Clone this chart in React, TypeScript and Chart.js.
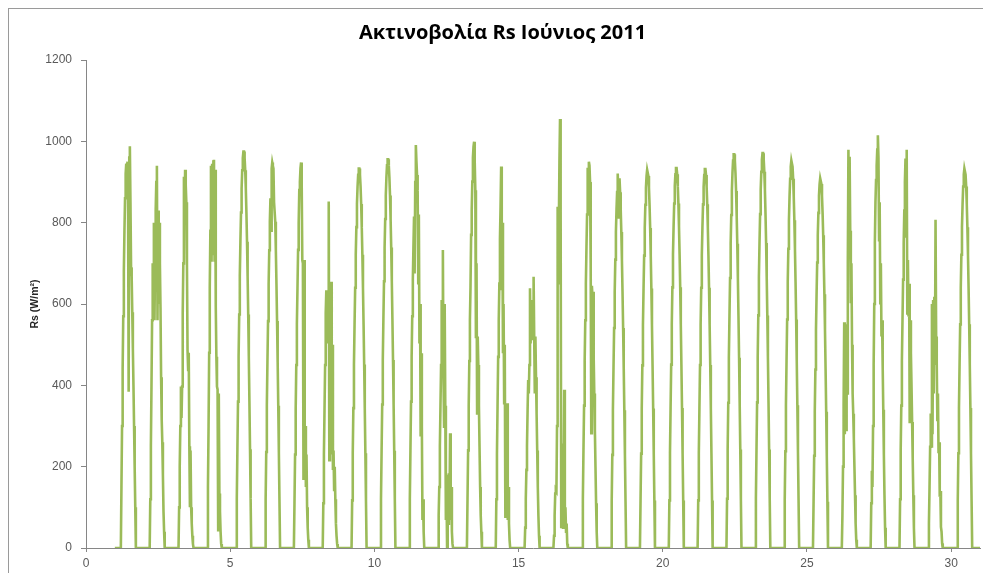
import React, { useEffect, useRef } from "react";
import { Chart, registerables } from "chart.js";

Chart.register(...registerables);

const TITLE = "Ακτινοβολία Rs Ιούνιος 2011";
const Y_TITLE = "Rs (W/m²)";
const X_TICKS = [0, 5, 10, 15, 20, 25, 30];
const Y_TICKS = [0, 200, 400, 600, 800, 1000, 1200];
const X_MIN = 0;
const X_MAX = 31;
const FIRST_X = 1;
const LAST_X = 31;
const SUNRISE_HOUR = 5;
const SUNSET_HOUR = 17.5;
// half-hourly sample times (hours) between sunrise and sunset
const SLOT_HOURS = [5.5, 6, 6.5, 7, 7.5, 8, 8.5, 9, 9.5, 10, 10.5, 11, 11.5, 12, 12.5, 13, 13.5, 14, 14.5, 15, 15.5, 16, 16.5, 17];

// Rs (W/m²) per day of June 2011, values at SLOT_HOURS
const d01 = [150, 300, 440, 570, 680, 780, 860, 920, 945, 910, 950, 870, 384, 960, 988, 850, 690, 667, 580, 490, 400, 300, 200, 100];
const d02 = [120, 250, 400, 560, 700, 570, 800, 560, 720, 830, 900, 940, 560, 830, 600, 800, 700, 590, 420, 315, 260, 180, 90, 40];
const d03 = [100, 200, 300, 397, 320, 397, 577, 700, 913, 823, 930, 893, 850, 700, 487, 438, 480, 250, 100, 240, 100, 60, 30, 10];
const d04 = [150, 300, 480, 640, 780, 940, 704, 945, 720, 950, 955, 704, 930, 593, 470, 397, 390, 44, 380, 134, 90, 40, 10, 0];
const d05 = [122, 243, 360, 471, 574, 669, 753, 825, 884, 929, 959, 975, 975, 959, 929, 884, 825, 753, 669, 574, 471, 360, 243, 122];
const d06 = [119, 236, 350, 458, 558, 650, 732, 802, 860, 780, 933, 948, 940, 933, 850, 850, 802, 732, 650, 558, 458, 350, 236, 119];
const d07 = [110, 230, 340, 450, 550, 640, 733, 800, 880, 900, 934, 948, 900, 708, 700, 167, 708, 265, 300, 150, 230, 100, 50, 20];
const d08 = [110, 230, 340, 450, 577, 634, 503, 620, 610, 852, 216, 580, 570, 655, 230, 500, 192, 240, 143, 200, 120, 60, 30, 10];
const d09 = [117, 233, 344, 451, 550, 640, 721, 789, 846, 889, 918, 933, 933, 918, 889, 846, 789, 721, 640, 550, 451, 344, 233, 117];
const d10 = [120, 239, 353, 462, 563, 656, 739, 809, 867, 911, 941, 956, 956, 941, 911, 867, 809, 739, 656, 563, 462, 353, 239, 120];
const d11 = [120, 240, 360, 470, 570, 660, 740, 815, 675, 900, 991, 950, 917, 880, 651, 820, 503, 600, 274, 479, 300, 69, 120, 40];
const d12 = [80, 150, 250, 350, 450, 610, 550, 733, 421, 298, 600, 350, 69, 150, 0, 180, 60, 184, 100, 282, 69, 150, 40, 10];
const d13 = [120, 240, 350, 460, 560, 643, 770, 830, 901, 960, 987, 999, 950, 880, 516, 700, 331, 520, 450, 350, 250, 150, 80, 40];
const d14 = [120, 230, 350, 470, 560, 650, 760, 839, 938, 634, 800, 479, 600, 356, 500, 77, 307, 200, 356, 69, 150, 60, 20, 0];
const d15 = [50, 120, 192, 250, 339, 413, 380, 450, 639, 503, 560, 610, 511, 600, 667, 520, 380, 520, 420, 330, 240, 150, 80, 30];
const d16 = [30, 80, 134, 143, 140, 300, 839, 651, 790, 950, 1055, 831, 52, 200, 257, 50, 150, 389, 61, 100, 40, 60, 10, 0];
const d17 = [120, 240, 350, 460, 560, 650, 740, 820, 935, 900, 950, 940, 900, 700, 282, 645, 618, 630, 470, 380, 290, 200, 110, 40];
const d18 = [115, 229, 339, 443, 541, 630, 709, 777, 832, 875, 921, 870, 810, 909, 875, 832, 777, 709, 630, 541, 443, 339, 229, 115];
const d19 = [117, 232, 343, 449, 548, 638, 719, 787, 844, 886, 915, 930, 930, 915, 886, 844, 787, 719, 638, 548, 449, 343, 232, 117];
const d20 = [117, 233, 344, 451, 550, 641, 722, 790, 847, 890, 919, 934, 934, 919, 890, 847, 790, 722, 641, 550, 451, 344, 233, 117];
const d21 = [117, 233, 344, 450, 549, 640, 720, 788, 845, 888, 917, 932, 932, 917, 888, 845, 788, 720, 640, 549, 450, 344, 233, 117];
const d22 = [121, 242, 357, 468, 570, 664, 748, 819, 878, 922, 953, 968, 968, 953, 922, 878, 819, 748, 664, 570, 468, 357, 242, 121];
const d23 = [122, 242, 358, 469, 572, 666, 750, 821, 881, 925, 955, 971, 971, 955, 925, 881, 821, 750, 666, 572, 469, 358, 242, 122];
const d24 = [119, 238, 351, 460, 562, 654, 736, 806, 864, 908, 938, 953, 953, 938, 908, 864, 806, 736, 654, 562, 460, 351, 238, 119];
const d25 = [114, 227, 335, 439, 536, 624, 702, 769, 824, 866, 895, 909, 909, 895, 866, 824, 769, 702, 624, 536, 439, 335, 227, 114];
const d26 = [80, 200, 350, 555, 280, 550, 290, 540, 380, 700, 979, 741, 962, 780, 602, 700, 500, 380, 330, 270, 200, 130, 60, 20];
const d27 = [110, 190, 150, 300, 450, 600, 750, 850, 905, 940, 980, 1015, 960, 757, 850, 602, 700, 520, 560, 450, 340, 230, 130, 50];
const d28 = [120, 240, 350, 460, 560, 660, 750, 830, 900, 958, 766, 979, 577, 708, 569, 650, 307, 560, 480, 400, 310, 220, 130, 50];
const d29 = [60, 150, 249, 331, 250, 600, 280, 610, 380, 618, 450, 807, 520, 454, 315, 380, 233, 260, 126, 140, 52, 40, 11, 0];
const d30 = [117, 233, 344, 451, 550, 640, 721, 789, 846, 889, 918, 933, 933, 918, 889, 846, 789, 721, 640, 550, 451, 344, 233, 117];

const DAYS = [1, 2, 3, 4, 5, 6, 7, 8, 9, 10, 11, 12, 13, 14, 15, 16, 17, 18, 19, 20, 21, 22, 23, 24, 25, 26, 27, 28, 29, 30];
const DAILY = [d01, d02, d03, d04, d05, d06, d07, d08, d09, d10, d11, d12, d13, d14, d15, d16, d17, d18, d19, d20, d21, d22, d23, d24, d25, d26, d27, d28, d29, d30];

function buildPoints() {
  const pts: { x: number; y: number }[] = [{ x: FIRST_X, y: 0 }];
  DAILY.forEach((vals, i) => {
    const day = DAYS[i];
    pts.push({ x: day + SUNRISE_HOUR / 24, y: 0 });
    vals.forEach((v, k) => pts.push({ x: day + SLOT_HOURS[k] / 24, y: v }));
    pts.push({ x: day + SUNSET_HOUR / 24, y: 0 });
  });
  pts.push({ x: LAST_X, y: 0 });
  return pts;
}

const FONT = "'Liberation Sans', Arial, sans-serif";
const TITLE_FONT = "'Open Sans', 'Liberation Sans', sans-serif";
const AXIS_GRAY = "#868686";

export default function App() {
  const ref = useRef<HTMLCanvasElement | null>(null);

  useEffect(() => {
    document.documentElement.style.overflow = "hidden";
    document.body.style.overflow = "hidden";
    if (!ref.current) return;
    const chart = new Chart(ref.current, {
      type: "line",
      data: {
        datasets: [
          {
            data: buildPoints(),
            borderColor: "#9BBB59",
            borderWidth: 2.6,
            pointRadius: 0,
            tension: 0,
            fill: false,
          },
        ],
      },
      options: {
        animation: false,
        responsive: false,
        layout: { padding: { left: 16, right: 11, top: 0, bottom: 0 } },
        plugins: {
          legend: { display: false },
          tooltip: { enabled: false },
          title: {
            display: true,
            text: TITLE,
            color: "#000000",
            font: { family: TITLE_FONT, size: 20, weight: "bold" },
            padding: { top: 12, bottom: 15 },
          },
        },
        scales: {
          x: {
            type: "linear",
            min: X_MIN,
            max: X_MAX,
            afterBuildTicks: (s: any) => {
              s.ticks = X_TICKS.map((v) => ({ value: v }));
            },
            afterFit: (s: any) => {
              s.height = 25;
            },
            grid: { drawOnChartArea: false, drawTicks: true, tickLength: 4, color: AXIS_GRAY },
            border: { display: true, color: AXIS_GRAY, width: 1 },
            ticks: {
              color: "#595959",
              font: { family: FONT, size: 12 },
              padding: 4,
              maxRotation: 0,
              autoSkip: false,
              callback: (v: any) => String(v),
            },
          },
          y: {
            type: "linear",
            min: 0,
            max: 1200,
            afterBuildTicks: (s: any) => {
              s.ticks = Y_TICKS.map((v) => ({ value: v }));
            },
            afterFit: (s: any) => {
              s.width = 61;
            },
            grid: { drawOnChartArea: false, drawTicks: true, tickLength: 5, color: AXIS_GRAY },
            border: { display: true, color: AXIS_GRAY, width: 1 },
            ticks: {
              color: "#595959",
              font: { family: FONT, size: 12 },
              padding: 9,
              autoSkip: false,
              callback: (v: any) => String(v),
            },
            title: {
              display: true,
              text: Y_TITLE,
              color: "#262626",
              font: { family: FONT, size: 10.5, weight: "bold" },
              padding: { top: 4, bottom: 4 },
            },
          },
        },
      },
    });
    return () => chart.destroy();
  }, []);

  return (
    <div
      style={{
        width: 983,
        height: 565,
        boxSizing: "border-box",
        borderTop: "1px solid #9a9a9a",
        borderLeft: "1px solid #9a9a9a",
        background: "#ffffff",
      }}
    >
      <canvas ref={ref} width={982} height={564} style={{ display: "block" }} />
    </div>
  );
}
